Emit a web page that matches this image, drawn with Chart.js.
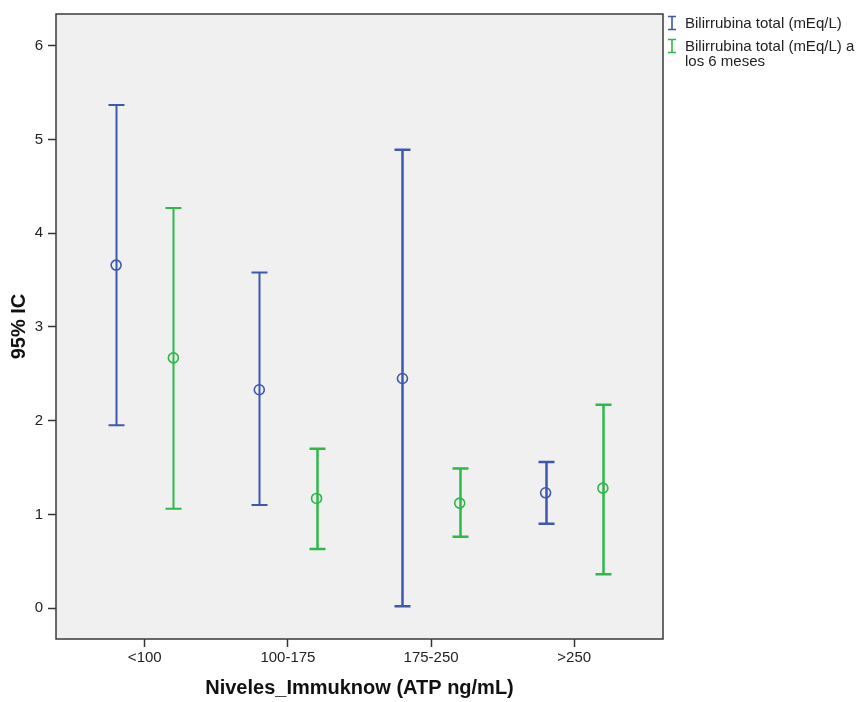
<!DOCTYPE html>
<html>
<head>
<meta charset="utf-8">
<script src="https://cdn.jsdelivr.net/npm/chart.js@4.4.1/dist/chart.umd.min.js"></script>
<style>
  html, body { margin: 0; padding: 0; background: #fff; }
  #wrap { position: relative; width: 859px; height: 702px; }
  #legend { position: absolute; left: 665px; top: 15px; font: 15px "Liberation Sans", Arial, sans-serif; color: #222; line-height: 15px; }
  .item { position: relative; padding-left: 20px; margin-bottom: 8px; width: 175px; }
  .item svg { position: absolute; left: 2px; top: 0px; }
</style>
</head>
<body>
<div id="wrap">
  <canvas id="chart" width="859" height="702"></canvas>
  <div id="legend"></div>
</div>
<script>
// --- Data ---
const categories = ['<100', '100-175', '175-250', '>250'];
const seriesNames = ['Bilirrubina total (mEq/L)', 'Bilirrubina total (mEq/L) a los 6 meses'];

const blueMean = [3.66, 2.33, 2.45, 1.23];
const blueLow  = [1.95, 1.10, 0.02, 0.90];
const blueHigh = [5.37, 3.58, 4.89, 1.56];

const greenMean = [2.67, 1.17, 1.12, 1.28];
const greenLow  = [1.06, 0.63, 0.76, 0.36];
const greenHigh = [4.27, 1.70, 1.49, 2.17];

const yTicks = [0, 1, 2, 3, 4, 5, 6];

// --- Styles ---
const BLUE = '#3E58AC';
const GREEN = '#2EB848';
const OFFSET = 0.2;          // side offset of each series within a category
const barWidths = [[2, 2, 2.5, 2.5], [2, 2.5, 2.5, 2.5]];
const FONT = '"Liberation Sans", Arial, sans-serif';

const series = [
    { name: seriesNames[0], color: BLUE, mean: blueMean, low: blueLow, high: blueHigh, shift: -OFFSET, widths: barWidths[0] },
    { name: seriesNames[1], color: GREEN, mean: greenMean, low: greenLow, high: greenHigh, shift: OFFSET, widths: barWidths[1] },
];

// --- Plugins ---
const plotFrame = {
    id: 'plotFrame',
    beforeDraw(chart) {
        const { ctx, chartArea: a } = chart;
        ctx.save();
        ctx.fillStyle = '#f0f0f0';
        ctx.fillRect(a.left, a.top, a.right - a.left, a.bottom - a.top);
        ctx.restore();
    },
    afterDraw(chart) {
        const { ctx, chartArea: a } = chart;
        ctx.save();
        ctx.strokeStyle = '#3a3a3a';
        ctx.lineWidth = 1.5;
        ctx.strokeRect(a.left, a.top, a.right - a.left, a.bottom - a.top);
        ctx.restore();
    }
};

const errorBars = {
    id: 'errorBars',
    beforeDatasetsDraw(chart) {
        const { ctx, scales: { x, y } } = chart;
        const cap = 8;
        ctx.save();
        series.forEach(s => {
            ctx.strokeStyle = s.color;
            s.mean.forEach((_, i) => {
                const px = Math.round(x.getPixelForValue(i + s.shift)) + 0.5;
                const top = y.getPixelForValue(s.high[i]);
                const bot = y.getPixelForValue(s.low[i]);
                ctx.lineWidth = s.widths[i];
                ctx.beginPath();
                ctx.moveTo(px, top); ctx.lineTo(px, bot);
                ctx.moveTo(px - cap, top); ctx.lineTo(px + cap, top);
                ctx.moveTo(px - cap, bot); ctx.lineTo(px + cap, bot);
                ctx.stroke();
            });
        });
        ctx.restore();
    }
};

// --- Chart ---
new Chart(document.getElementById('chart'), {
    type: 'scatter',
    data: {
        datasets: series.map(s => ({
            label: s.name,
            data: s.mean.map((v, i) => ({ x: i + s.shift, y: v })),
            borderColor: s.color,
            backgroundColor: 'transparent',
            pointStyle: 'circle',
            pointRadius: 5,
            pointBorderWidth: 1.6,
            pointHoverRadius: 5,
        }))
    },
    options: {
        responsive: false,
        animation: false,
        layout: { padding: { top: 13, right: 196, left: 0, bottom: 0 } },
        plugins: { legend: { display: false }, tooltip: { enabled: false } },
        scales: {
            x: {
                type: 'linear',
                min: -0.62, max: 3.62,
                afterBuildTicks: (scale) => { scale.ticks = categories.map((_, i) => ({ value: i })); },
                afterFit: (scale) => { scale.height = 63; },
                ticks: { callback: (v) => categories[v], color: '#222', font: { family: FONT, size: 15 }, padding: 2, maxRotation: 0 },
                grid: { drawOnChartArea: false, tickLength: 8, tickColor: '#333', tickWidth: 1.5 },
                border: { display: false },
                title: { display: true, text: 'Niveles_Immuknow (ATP ng/mL)', color: '#111', font: { family: FONT, size: 20, weight: 'bold' }, padding: { top: 0, bottom: 2 } }
            },
            y: {
                min: -0.33, max: 6.34,
                afterBuildTicks: (scale) => { scale.ticks = yTicks.map(v => ({ value: v })); },
                afterFit: (scale) => { scale.width = 56; },
                ticks: { color: '#222', font: { family: FONT, size: 15 }, padding: 5 },
                grid: { drawOnChartArea: false, tickLength: 8, tickColor: '#333', tickWidth: 1.5 },
                border: { display: false },
                title: { display: true, text: '95% IC', color: '#111', font: { family: FONT, size: 20, weight: 'bold' }, padding: { top: 7, bottom: 0 } }
            }
        }
    },
    plugins: [plotFrame, errorBars]
});

// --- Legend ---
const legend = document.getElementById('legend');
series.forEach(s => {
    const div = document.createElement('div');
    div.className = 'item';
    div.innerHTML = `<svg width="10" height="16"><path d="M1 1.5H9M5 1.5V14.5M1 14.5H9" stroke="${s.color}" stroke-width="1.6" fill="none"/></svg>${s.name}`;
    legend.appendChild(div);
});
</script>
</body>
</html>
